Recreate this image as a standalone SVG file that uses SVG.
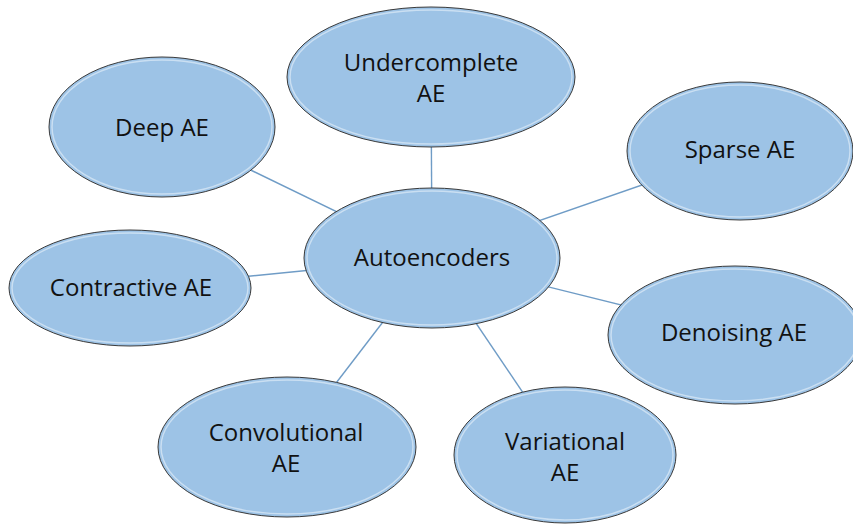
<svg xmlns="http://www.w3.org/2000/svg" width="853" height="524" viewBox="0 0 853 524">
<style>
.bg{fill:#ffffff}
.edge{stroke:#6f9cc6;stroke-width:1.4;fill:none}
.node{fill:#9dc3e6;stroke:#3a3a3a;stroke-width:1}
.hl{fill:none;stroke:#d6e6f5;stroke-width:1.5;opacity:0.8}
.lbl{font-family:"Open Sans","Noto Sans","Liberation Sans",sans-serif;font-size:24px;fill:#111111;text-anchor:middle}
</style>
<rect class="bg" x="0" y="0" width="853" height="524"/>
<g id="connectors">
<line class="edge" x1="432" y1="258" x2="431" y2="77"/>
<line class="edge" x1="432" y1="258" x2="162" y2="127"/>
<line class="edge" x1="432" y1="258" x2="740" y2="151"/>
<line class="edge" x1="432" y1="258" x2="130" y2="288"/>
<line class="edge" x1="432" y1="258" x2="734" y2="333"/>
<line class="edge" x1="432" y1="258" x2="287" y2="447"/>
<line class="edge" x1="432" y1="258" x2="565" y2="455"/>
</g>
<g id="undercomplete">
<ellipse class="node" cx="431" cy="77" rx="144" ry="70"/>
<ellipse class="hl" cx="431" cy="77" rx="141" ry="67"/>
<text class="lbl" x="431" y="71">Undercomplete</text>
<text class="lbl" x="431" y="102">AE</text>
</g>
<g id="deep">
<ellipse class="node" cx="162" cy="127" rx="113" ry="70"/>
<ellipse class="hl" cx="162" cy="127" rx="110" ry="67"/>
<text class="lbl" x="162" y="136">Deep AE</text>
</g>
<g id="sparse">
<ellipse class="node" cx="740" cy="151" rx="113" ry="69"/>
<ellipse class="hl" cx="740" cy="151" rx="110" ry="66"/>
<text class="lbl" x="740" y="158">Sparse AE</text>
</g>
<g id="contractive">
<ellipse class="node" cx="130" cy="288" rx="121" ry="58"/>
<ellipse class="hl" cx="130" cy="288" rx="118" ry="55"/>
<text class="lbl" x="131" y="296">Contractive AE</text>
</g>
<g id="autoencoders">
<ellipse class="node" cx="432" cy="258" rx="128" ry="70"/>
<ellipse class="hl" cx="432" cy="258" rx="125" ry="67"/>
<text class="lbl" x="432" y="266">Autoencoders</text>
</g>
<g id="denoising">
<ellipse class="node" cx="735" cy="335" rx="127" ry="69"/>
<ellipse class="hl" cx="735" cy="335" rx="124" ry="66"/>
<text class="lbl" x="734" y="341">Denoising AE</text>
</g>
<g id="convolutional">
<ellipse class="node" cx="287" cy="447" rx="129" ry="70"/>
<ellipse class="hl" cx="287" cy="447" rx="126" ry="67"/>
<text class="lbl" x="286" y="441">Convolutional</text>
<text class="lbl" x="286" y="472">AE</text>
</g>
<g id="variational">
<ellipse class="node" cx="565" cy="455" rx="111" ry="68"/>
<ellipse class="hl" cx="565" cy="455" rx="108" ry="65"/>
<text class="lbl" x="565" y="450">Variational</text>
<text class="lbl" x="565" y="481">AE</text>
</g>
</svg>
